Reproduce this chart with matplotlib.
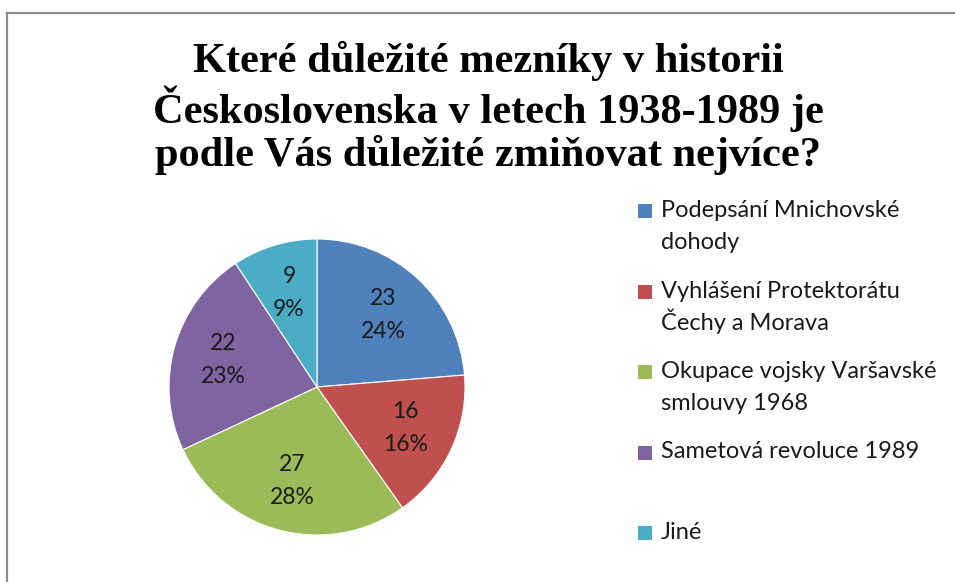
import matplotlib
matplotlib.use("Agg")
import matplotlib.pyplot as plt
from matplotlib.lines import Line2D
from matplotlib.patches import Rectangle

# data
categories = [
    "Podepsání Mnichovské\ndohody",
    "Vyhlášení Protektorátu\nČechy a Morava",
    "Okupace vojsky Varšavské\nsmlouvy 1968",
    "Sametová revoluce 1989",
    "Jiné",
]
values = [23, 16, 27, 22, 9]
colors = ["#4F81BD", "#C0504D", "#9BBB59", "#8064A2", "#4BACC6"]
title = "Které důležité mezníky v historii\nČeskoslovenska v letech 1938-1989 je\npodle Vás důležité zmiňovat nejvíce?"

W, H = 955, 582
fig = plt.figure(figsize=(W / 100, H / 100), dpi=100)
fig.patch.set_facecolor("white")

# ramecek grafu (orezany)
fig.add_artist(Line2D([7 / W, 1], [1 - 13 / H, 1 - 13 / H], color="#8c8c8c", lw=1.6))
fig.add_artist(Line2D([7 / W, 7 / W], [0, 1 - 13 / H], color="#8c8c8c", lw=1.6))

fig.text(488 / W, 1 - 108 / H, title, ha="center", va="center",
         fontsize=30.5, fontweight="bold", family="Liberation Serif",
         linespacing=1.1, color="black")

# kolac
cx, cy, r = 317, 387, 148
ax = fig.add_axes([(cx - r) / W, (H - cy - r) / H, 2 * r / W, 2 * r / H])
total = sum(values)


def fmt(p):
    v = int(round(p * total / 100))
    return f"{v}\n{p:.0f}%"


wedges, texts, autotexts = ax.pie(values, colors=colors, startangle=90,
                                  counterclock=False, autopct=fmt,
                                  pctdistance=0.66,
                                  wedgeprops=dict(edgecolor="white", linewidth=0.8),
                                  textprops=dict(fontsize=16.5, family="Lato",
                                                 color="#1a1a1a", linespacing=1.7))
ax.set_xlim(-1, 1)
ax.set_ylim(-1, 1)

# legenda - kazdy radek zvlast, at je rozestup stejny
lx = 638
for i, (lab, c) in enumerate(zip(categories, colors)):
    y = 211 + i * 80.5
    fig.add_artist(Rectangle((lx / W, 1 - (y + 7) / H), 14 / W, 14 / H,
                             facecolor=c, edgecolor="none"))
    for k, line in enumerate(lab.split("\n")):
        fig.text(661 / W, 1 - (y + 6 + k * 32) / H, line, ha="left", va="baseline",
                 fontsize=17, family="Lato", color="#1a1a1a")

fig.savefig("out.png", dpi=100)
